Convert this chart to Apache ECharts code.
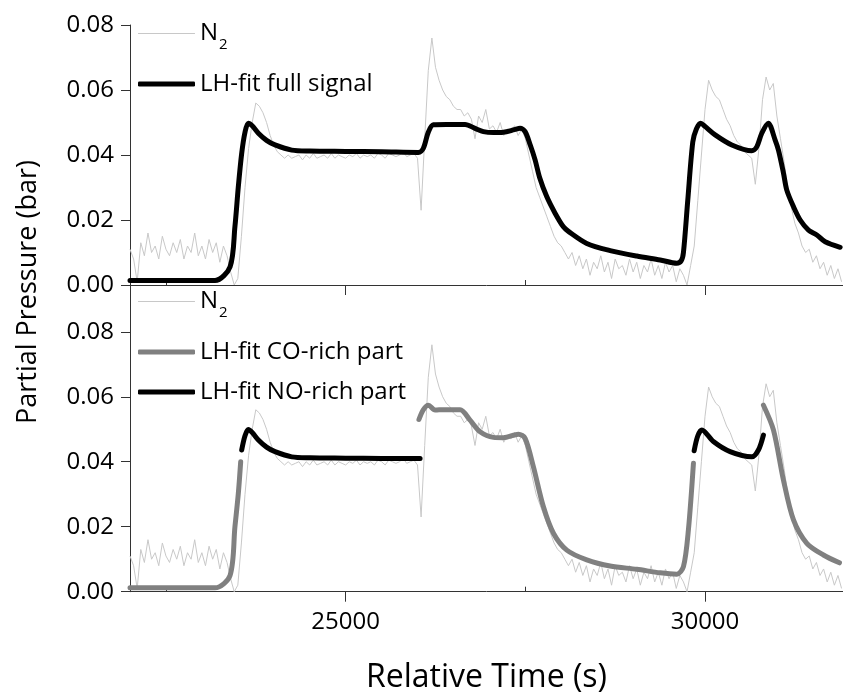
<!DOCTYPE html>
<html><head><meta charset="utf-8">
<script src="https://cdn.jsdelivr.net/npm/echarts@6/dist/echarts.min.js"></script>
<style>html,body{margin:0;padding:0;background:#fff}#c{width:843px;height:696px}</style>
</head><body><div id="c"></div>
<script>
// N2 raw signal, sampled every 50 s from 22000 s
const n2Start = 22000;
const n2Step = 50;
const n2Values = [
0.011,0.008,0.001,0.013,0.009,0.016,0.010,0.012,0.008,0.015,
0.011,0.009,0.013,0.010,0.014,0.008,0.012,0.010,0.016,0.009,
0.012,0.008,0.014,0.010,0.013,0.007,0.012,0.009,0.004,0.000,
0.002,0.015,0.030,0.042,0.050,0.056,0.055,0.053,0.050,0.046,
0.043,0.041,0.040,0.039,0.040,0.039,0.0395,0.040,0.0385,0.040,
0.039,0.0405,0.039,0.0395,0.040,0.039,0.0405,0.039,0.040,0.0395,
0.039,0.040,0.0395,0.0405,0.039,0.040,0.0395,0.040,0.039,0.0405,
0.040,0.039,0.0405,0.040,0.0395,0.040,0.041,0.0395,0.040,0.0405,
0.039,0.023,0.045,0.066,0.076,0.067,0.063,0.060,0.058,0.057,
0.055,0.054,0.054,0.052,0.053,0.051,0.045,0.052,0.050,0.054,
0.048,0.049,0.047,0.050,0.046,0.048,0.047,0.049,0.046,0.048,
0.045,0.040,0.035,0.030,0.027,0.024,0.021,0.018,0.015,0.013,
0.012,0.010,0.008,0.010,0.006,0.009,0.005,0.008,0.003,0.007,
0.005,0.009,0.004,0.007,0.002,0.008,0.005,0.006,0.003,0.008,
0.004,0.007,0.002,0.006,0.004,0.008,0.003,0.006,0.002,0.007,
0.004,0.006,0.001,0.005,0.003,0.000,0.006,0.012,0.026,0.040,
0.054,0.063,0.060,0.058,0.057,0.054,0.051,0.049,0.046,0.044,
0.043,0.041,0.040,0.039,0.031,0.042,0.057,0.064,0.060,0.062,
0.052,0.045,0.038,0.030,0.024,0.019,0.016,0.012,0.010,0.011,
0.007,0.009,0.005,0.007,0.003,0.006,0.002,0.005,0.001
];

// LH-fit full signal (top panel) [time, pressure]
const fullFit = [
[22000,0.0014],[23183,0.0014],[23392,0.0056],[23460,0.018],[23507,0.0302],[23554,0.0405],
[23600,0.047],[23646,0.0498],[23700,0.0490],[23786,0.0467],[23900,0.0445],[24018,0.0431],
[24250,0.0415],[24505,0.0412],[25000,0.0411],[25500,0.0410],[26012,0.0408],[26080,0.0420],
[26150,0.0470],[26221,0.0493],[26400,0.0494],[26662,0.0494],[26800,0.0482],[26917,0.0472],
[27056,0.0469],[27195,0.0470],[27350,0.0478],[27427,0.0482],[27497,0.0472],[27570,0.0430],
[27636,0.0385],[27700,0.0330],[27798,0.0272],[27914,0.0221],[28030,0.0179],[28100,0.0165],
[28355,0.0128],[28680,0.0106],[29051,0.0089],[29376,0.0077],[29608,0.0067],[29670,0.0075],
[29700,0.0100],[29760,0.0260],[29830,0.0440],[29880,0.0480],[29940,0.0498],[30000,0.0488],
[30141,0.0462],[30373,0.0431],[30651,0.0413],[30720,0.0425],[30790,0.0467],[30880,0.0498],
[30976,0.0446],[31022,0.0415],[31092,0.0344],[31138,0.0292],[31231,0.0241],[31324,0.0200],
[31440,0.0169],[31556,0.0154],[31672,0.0133],[31880,0.0116]
];

// LH-fit CO-rich part (bottom panel)
const coFit = [
[22000,0.0012],[23183,0.0012],[23392,0.0050],[23460,0.0200],[23507,0.0302],[23540,0.0400],
null,
[26020,0.0530],[26080,0.0560],[26151,0.0574],[26244,0.0559],[26300,0.0560],[26592,0.0560],
[26731,0.0528],[26871,0.0492],[27056,0.0475],[27195,0.0474],[27404,0.0485],[27497,0.0472],
[27612,0.0385],[27751,0.0262],[27891,0.0180],[28077,0.0128],[28355,0.0098],[28680,0.0079],
[29051,0.0069],[29376,0.0058],[29608,0.0054],[29700,0.0077],[29769,0.0190],[29839,0.0395],
null,
[30813,0.0574],[30952,0.0498],[31091,0.0344],[31231,0.0221],[31417,0.0149],[31648,0.0113],
[31871,0.0089]
];

// LH-fit NO-rich part (bottom panel)
const noFit = [
[23554,0.0436],[23600,0.0480],[23646,0.0499],[23700,0.0490],[23786,0.0467],[23900,0.0445],
[24018,0.0431],[24250,0.0415],[24505,0.0412],[25000,0.0411],[25500,0.0410],[26036,0.0410],
null,
[29849,0.0434],[29900,0.0480],[29956,0.0498],[30117,0.0462],[30349,0.0431],[30651,0.0415],
[30743,0.0436],[30813,0.0482]
];

const xMajor = [25000, 30000];
const xMinor = [22500, 27500];
const yMajor = [0, 0.02, 0.04, 0.06, 0.08];
const yMinor = [0.01, 0.03, 0.05, 0.07];

const n2Data = n2Values.map((v, i) => [n2Start + i * n2Step, v]);

const FONT = 'Open Sans';
const AX = '#333';

function xAx(grid, labels) {
  return [{
    type: 'value', gridIndex: grid, min: 22000, max: 31920,
    axisLine: {show: true, onZero: false, lineStyle: {color: AX, width: 1}},
    axisTick: {show: true, customValues: xMajor, length: 10, lineStyle: {color: AX}},
    axisLabel: {show: labels, customValues: xMajor, color: '#000', fontFamily: FONT, fontSize: 24, margin: 18,
      formatter: v => String(v)},
    splitLine: {show: false},
    name: labels ? 'Relative Time (s)' : '',
    nameLocation: 'middle', nameGap: 70,
    nameTextStyle: {fontFamily: FONT, fontSize: 32, color: '#000'}
  }, {
    type: 'value', gridIndex: grid, min: 22000, max: 31920,
    axisLine: {show: false},
    axisTick: {show: true, customValues: xMinor, length: 5, lineStyle: {color: AX}},
    axisLabel: {show: false}, splitLine: {show: false}
  }];
}
function yAx(grid, max) {
  return [{
    type: 'value', gridIndex: grid, min: 0, max: max,
    axisLine: {show: true, onZero: false, lineStyle: {color: AX, width: 1}},
    axisTick: {show: true, customValues: yMajor, length: 9, lineStyle: {color: AX}},
    axisLabel: {show: true, customValues: yMajor, color: '#000', fontFamily: FONT, fontSize: 24, margin: 16,
      formatter: v => v.toFixed(2)},
    splitLine: {show: false}
  }, {
    type: 'value', gridIndex: grid, min: 0, max: max,
    axisLine: {show: false},
    axisTick: {show: true, customValues: yMinor, length: 5, lineStyle: {color: AX}},
    axisLabel: {show: false}, splitLine: {show: false}
  }];
}

const legendText = {
  fontFamily: FONT, fontSize: 24, color: '#000', lineHeight: 30,
  rich: {
    n: {fontFamily: FONT, fontSize: 24, color: '#000', lineHeight: 30},
    s: {fontFamily: FONT, fontSize: 15, color: '#000', lineHeight: 30, padding: [22, 0, 0, 1]}
  }
};
function leg(name, top, h) {
  return {
    data: [name], left: 138, top: top, padding: 0, itemWidth: 57, itemHeight: h,
    icon: 'roundRect', selectedMode: false, textStyle: legendText,
    formatter: n => n === 'N2' ? '{n|N}{s|2}' : n
  };
}

const chart = echarts.init(document.getElementById('c'), null, {renderer: 'canvas'});
chart.setOption({
  animation: false,
  backgroundColor: '#fff',
  grid: [
    {left: 130, right: 0, top: 25, height: 260},
    {left: 130, right: 0, top: 285, height: 306.7}
  ],
  xAxis: [...xAx(0, false), ...xAx(1, true)],
  yAxis: [...yAx(0, 0.08), ...yAx(1, 0.0944)],
  legend: [
    leg('N2', 15, 1.2), leg('LH-fit full signal', 69, 5),
    leg('N2', 283, 1.2), leg('LH-fit CO-rich part', 337, 5), leg('LH-fit NO-rich part', 377, 5)
  ],
  graphic: [{
    type: 'text', x: 28, y: 292, rotation: Math.PI / 2,
    style: {text: 'Partial Pressure (bar)', fontFamily: FONT, fontSize: 27, fill: '#000',
      align: 'center', verticalAlign: 'middle'}
  }],
  series: [
    {name: 'N2', type: 'line', xAxisIndex: 0, yAxisIndex: 0, data: n2Data, symbol: 'none',
      lineStyle: {color: '#c8c8c8', width: 1}, itemStyle: {color: '#c8c8c8'}, z: 1},
    {name: 'LH-fit full signal', type: 'line', xAxisIndex: 0, yAxisIndex: 0, data: fullFit, symbol: 'none',
      smooth: 0.3, lineStyle: {color: '#000', width: 5, cap: 'round', join: 'round'}, itemStyle: {color: '#000'}, z: 3},
    {name: 'N2', type: 'line', xAxisIndex: 2, yAxisIndex: 2, data: n2Data, symbol: 'none',
      lineStyle: {color: '#c8c8c8', width: 1}, itemStyle: {color: '#c8c8c8'}, z: 1},
    {name: 'LH-fit CO-rich part', type: 'line', xAxisIndex: 2, yAxisIndex: 2, data: coFit, symbol: 'none',
      smooth: 0.3, connectNulls: false,
      lineStyle: {color: '#808080', width: 5, cap: 'round', join: 'round'}, itemStyle: {color: '#808080'}, z: 3},
    {name: 'LH-fit NO-rich part', type: 'line', xAxisIndex: 2, yAxisIndex: 2, data: noFit, symbol: 'none',
      smooth: 0.3, connectNulls: false,
      lineStyle: {color: '#000', width: 5, cap: 'round', join: 'round'}, itemStyle: {color: '#000'}, z: 3}
  ]
});
</script>
</body></html>
